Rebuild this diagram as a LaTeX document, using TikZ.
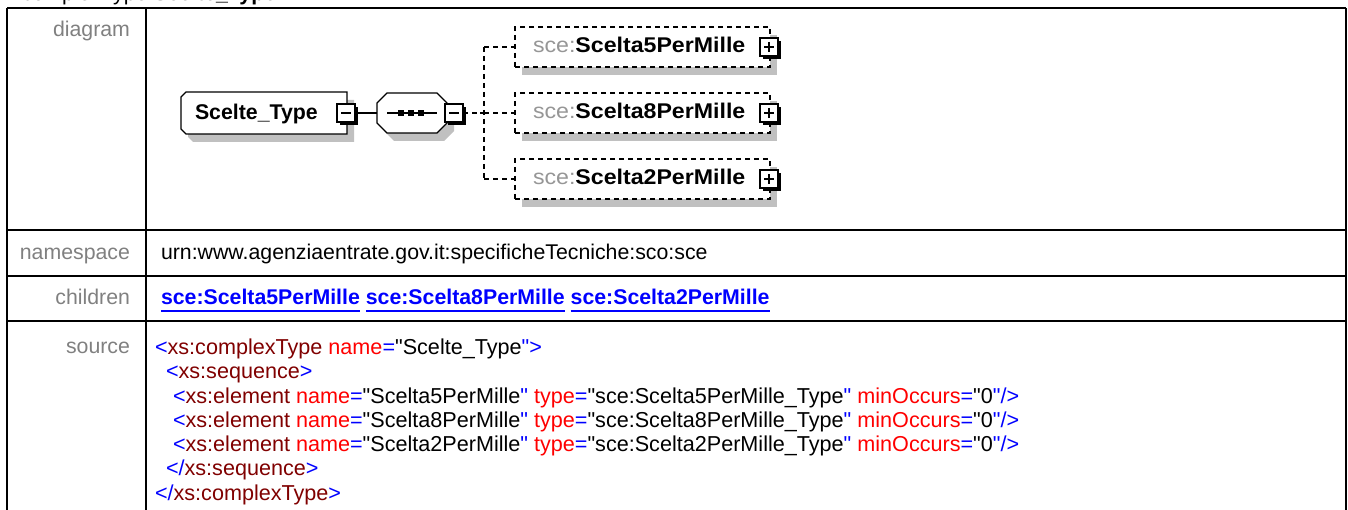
\documentclass[tikz,border=0pt]{standalone}
\usepackage{fontspec}
\setmainfont{Liberation Sans}
\newfontfamily\srcfont{Liberation Sans}
\usepackage{graphicx}
\usetikzlibrary{shapes.misc,shadows}
\definecolor{lblgray}{RGB}{128,128,128}
\definecolor{shgray}{RGB}{192,192,192}
\definecolor{xblue}{RGB}{0,0,255}
\definecolor{xred}{RGB}{255,0,0}
\definecolor{xmaroon}{RGB}{128,0,0}
\definecolor{pfxgray}{RGB}{150,150,150}
\newcommand\tB[1]{\textcolor{xblue}{#1}}
\newcommand\tR[1]{\textcolor{xred}{#1}}
\newcommand\tM[1]{\textcolor{xmaroon}{#1}}
\newcommand\qq{\symbol{34}}
\newcommand\ulk[1]{\setbox0\hbox{#1}\rlap{\textcolor{xblue}{\rule[-7.5pt]{\wd0}{2pt}}}\box0\relax}
\newcommand\elname[1]{\scalebox{1.087}[1]{\textcolor{pfxgray}{sce:}\textbf{#1}}}
\newcommand\srcel[1]{\tB{<}\tM{xs:element} \tR{name}\tB{=}\qq #1\tB{\qq} \tR{type}\tB{=}\qq sce:#1\_Type\tB{\qq} \tR{minOccurs}\tB{=}\qq 0\tB{\qq/>}}
\begin{document}
\begin{tikzpicture}[x=1pt,y=-1pt,
  font=\fontsize{21.3}{24}\selectfont,
  every node/.style={inner sep=0pt, outer sep=0pt},
  grid/.style={line width=2.5pt, black},
  lbl/.style={anchor=base east, text=lblgray},
  txt/.style={anchor=base west},
  srctxt/.style={anchor=base west, font=\fontsize{21.6}{24}\srcfont},
  boxshadow/.style={drop shadow={shadow xshift=7pt, shadow yshift=-8pt, fill=shgray, opacity=1}},
  pmbox/.style={draw, line width=1.2pt, fill=white, minimum size=18pt,
    drop shadow={shadow xshift=3pt, shadow yshift=-3pt, fill=black, opacity=1}},
  minusbox/.style={pmbox, path picture={\draw[line width=1.4pt]
    ([xshift=4pt]path picture bounding box.west) -- ([xshift=-4pt]path picture bounding box.east);}},
  plusbox/.style={pmbox, path picture={\draw[line width=1.4pt]
    ([xshift=4pt]path picture bounding box.west) -- ([xshift=-4pt]path picture bounding box.east)
    ([yshift=-4pt]path picture bounding box.north) -- ([yshift=4pt]path picture bounding box.south);}},
  elbox/.style={rectangle, draw, dashed, dash pattern=on 5pt off 4pt, line width=1.2pt, fill=white,
    minimum width=255pt, minimum height=40pt, boxshadow},
  outline/.style={draw, line width=1.2pt, fill=white},
  shadowfill/.style={fill=shgray, shift={(7,8)}},
  link/.style={dash pattern=on 5pt off 4pt, line width=1.2pt},
  solidlink/.style={line width=1.2pt}
]
\path[use as bounding box] (0,0) rectangle (1348,510);
\clip (0,0) rectangle (1348,510);

% heading (cut off at top)
\node[txt] (head) at (22,0.5) {complexType \textbf{Scelte\_Type}};

% table grid
\draw[grid] (7,8) -- (1346,8);
\draw[grid] (7,8) -- (7,515);
\draw[grid] (1346,8) -- (1346,515);
\draw[grid] (146,8) -- (146,515);
\draw[grid] (7,230) -- (1346,230);
\draw[grid] (7,276) -- (1346,276);
\draw[grid] (7,321) -- (1346,321);

% row labels
\node[lbl] (ldiag) at (130,37) {diagram};
\node[lbl] (lns) at (130,260) {namespace};
\node[lbl] (lch) at (130,305) {children};
\node[lbl] (lsrc) at (130,353) {source};

% namespace / children
\node[txt] (ns) at (161,260) {urn:www.agenziaentrate.gov.it:specificheTecniche:sco:sce};
\node[txt, text=xblue, font=\fontsize{21.3}{24}\selectfont\bfseries] (ch) at (161,305)
  {\ulk{sce:Scelta5PerMille}\ \ulk{sce:Scelta8PerMille}\ \ulk{sce:Scelta2PerMille}};

% source
\node[srctxt] (s1) at (155,354) {\tB{<}\tM{xs:complexType} \tR{name}\tB{=}\qq Scelte\_Type\tB{\qq>}};
\node[srctxt] (s2) at (166,378) {\tB{<}\tM{xs:sequence}\tB{>}};
\node[srctxt] (s3) at (173,403) {\srcel{Scelta5PerMille}};
\node[srctxt] (s4) at (173,427) {\srcel{Scelta8PerMille}};
\node[srctxt] (s5) at (173,451) {\srcel{Scelta2PerMille}};
\node[srctxt] (s6) at (166,475) {\tB{</}\tM{xs:sequence}\tB{>}};
\node[srctxt] (s7) at (155,500) {\tB{</}\tM{xs:complexType}\tB{>}};

% diagram: complex type (chamfered left corners)
\fill[shadowfill] (186,92) -- (347,92) -- (347,134) -- (186,134) -- (181,129) -- (181,97) -- cycle;
\path[outline] (186,92) -- (347,92) -- (347,134) -- (186,134) -- (181,129) -- (181,97) -- cycle;
\node[minimum width=166pt, minimum height=42pt] (scelte) at (264,113) {};
\node[txt, font=\fontsize{21.3}{24}\selectfont\bfseries] (sceltetxt) at (195,120) {Scelte\_Type};
\node[minusbox] (sceltepm) at (346,113) {};

% sequence (octagon)
\fill[shadowfill] (377,103) -- (387,93) -- (437,93) -- (447,103) -- (447,123) -- (437,133) -- (387,133) -- (377,123) -- cycle;
\path[outline] (377,103) -- (387,93) -- (437,93) -- (447,103) -- (447,123) -- (437,133) -- (387,133) -- (377,123) -- cycle;
\node[minimum width=70pt, minimum height=40pt] (seq) at (412,113) {};
\coordinate (sqa) at (387,113);
\coordinate (sqb) at (437,113);
\draw[solidlink] (sqa) -- (sqb);
\foreach \sx in {401,411,421} \fill (\sx-3,110) rectangle (\sx+3,116);
\node[minusbox] (seqpm) at (454,113) {};
\draw[solidlink] (sceltepm.east) -- (seq.west);

% children
\node[elbox] (c1) at (642.5,47) {};
\node[elbox] (c2) at (642.5,113) {};
\node[elbox] (c3) at (642.5,179) {};
\node[txt] (t1) at (533,53) {\elname{Scelta5PerMille}};
\node[txt] (t2) at (533,119) {\elname{Scelta8PerMille}};
\node[txt] (t3) at (533,185) {\elname{Scelta2PerMille}};
\node[plusbox] (p1) at (769,47) {};
\node[plusbox] (p2) at (769,113) {};
\node[plusbox] (p3) at (769,179) {};

% connectors
\coordinate (jtop) at (484,47);
\coordinate (jmid) at (484,113);
\coordinate (jbot) at (484,179);
\draw[link] (seqpm.east) -- (jmid);
\draw[link] (jtop) -- (jbot);
\draw[link] (jtop) -- (c1.west);
\draw[link] (jmid) -- (c2.west);
\draw[link] (jbot) -- (c3.west);
\draw[solidlink] (480,113) -- (488,113);
\end{tikzpicture}
\end{document}
